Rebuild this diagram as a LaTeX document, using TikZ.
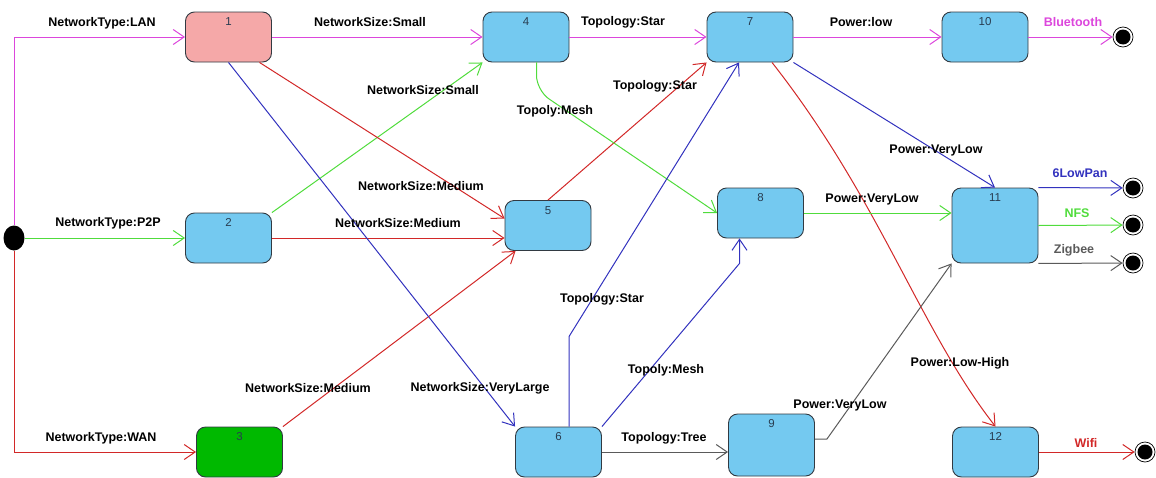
\documentclass[tikz,border=0pt]{standalone}
\usepackage{fontspec}
\setmainfont{Liberation Sans}
\usetikzlibrary{positioning, shapes.geometric, arrows.meta}
\definecolor{StateBlue}{RGB}{116, 201, 240}
\definecolor{StatePink}{RGB}{245, 168, 168}
\definecolor{StateGreen}{RGB}{0, 185, 0}
\definecolor{BorderGray}{RGB}{50, 58, 66}
\definecolor{NumGray}{RGB}{40, 60, 80}
\definecolor{LanPink}{RGB}{220, 70, 220}
\definecolor{P2PGreen}{RGB}{80, 220, 60}
\definecolor{WanRed}{RGB}{210, 40, 40}
\definecolor{VLBlue}{RGB}{50, 50, 190}
\definecolor{TreeGray}{RGB}{90, 90, 90}

\begin{document}
\begin{tikzpicture}[
    x=1pt, y=-1pt,
    state/.style={rectangle, rounded corners=9pt, draw=BorderGray, line width=0.9pt, fill=StateBlue, minimum width=86pt, minimum height=50pt, inner sep=0pt},
    num/.style={anchor=north, inner sep=6pt, font=\fontsize{11.5}{12}\selectfont, text=NumGray},
    lbl/.style={font=\fontsize{12.5}{14}\selectfont\bfseries, inner sep=1pt},
    init/.style={ellipse, fill=black, minimum width=21pt, minimum height=25pt, inner sep=0pt},
    final/.style={circle, draw=black, fill=white, line width=0.7pt, minimum size=20pt, inner sep=0pt,
      path picture={\fill[black] (path picture bounding box.center) circle (7.5pt);}},
    arrow/.style={-{Straight Barb[length=11pt, width=15pt]}, line width=1pt}
  ]
    \useasboundingbox (0,0) rectangle (1156,477);

    % Initial state
    \node[init] (start) at (14,238) {};

    % States
    \node[state, fill=StatePink, label={[num]north:1}] (n1) at (228.5,37) {};
    \node[state, fill=StateGreen, label={[num]north:3}] (n3) at (239.5,452) {};
    \foreach \n/\x/\y in {2/228.5/238, 4/526/37, 5/548/225.5, 6/558.5/452, 7/750/37, 8/760.5/213, 10/985/37, 12/995.5/452} {
      \node[state, label={[num]north:\n}] (n\n) at (\x,\y) {};
    }
    \node[state, minimum height=62pt, label={[num]north:9}] (n9) at (771.5,445) {};
    \node[state, minimum height=75pt, label={[num]north:11}] (n11) at (995,225.5) {};

    % Final states
    \foreach \f/\x/\y in {1/1123/37, 2/1133/188, 3/1133/225, 4/1133/263, 5/1145/452} {
      \node[final] (f\f) at (\x,\y) {};
    }

    % Network type
    \draw[arrow, LanPink] (start) |- (n1);
    \draw[arrow, P2PGreen] (start) -- (n2);
    \draw[arrow, WanRed] (start) |- (n3);

    % Network size
    \draw[arrow, LanPink] (n1) -- (n4);
    \draw[arrow, P2PGreen] (n2.north east) -- (n4.south west);
    \draw[arrow, WanRed] ([xshift=31pt]n1.south) -- ([yshift=7pt]n5.west);
    \draw[arrow, WanRed] (n2) -- (n2 -| n5.west);
    \draw[arrow, WanRed] (n3.north east) -- ([xshift=11pt]n5.south west);
    \draw[arrow, VLBlue] (n1.south) -- (n6.north west);

    % Topology
    \draw[arrow, LanPink] (n4) -- (n7);
    \draw[arrow, WanRed] (n5.north) -- (n7.south west);
    \draw[arrow, P2PGreen, rounded corners=15pt] ([xshift=10.5pt]n4.south) -- ++(0,28) -- (n8.west);
    \draw[arrow, VLBlue] ([xshift=10.5pt]n6.north) -- ++(0,-90) -- ([xshift=-11pt]n7.south);
    \draw[arrow, VLBlue] (n6.north east) -- ([xshift=-21pt, yshift=-25pt]n8.south) -- ([xshift=-21pt]n8.south);
    \draw[arrow, TreeGray] (n6.east) -- (n6.east -| n9.west);

    % Power
    \draw[arrow, LanPink] (n7) -- (n10);
    \draw[arrow, VLBlue] (n7.south east) -- (n11.north);
    \draw[arrow, WanRed] ([xshift=22pt]n7.south) .. controls (880,200) and (920,330) .. (n12.north);
    \draw[arrow, P2PGreen] (n8.east) -- (n8.east -| n11.west);
    \draw[arrow, TreeGray] ([yshift=6pt]n9.east) -- ++(12,0) -- (n11.south west);

    % Technologies
    \draw[arrow, LanPink] (n10) -- (f1);
    \draw[arrow, VLBlue] (n11.north east) -- (f2);
    \draw[arrow, P2PGreen] (n11.east) -- (f3);
    \draw[arrow, TreeGray] (n11.south east) -- (f4);
    \draw[arrow, WanRed] (n12) -- (f5);

    % Labels
    \node[lbl] (lLan) at (102,23) {NetworkType:LAN};
    \node[lbl] (lP2P) at (108,223) {NetworkType:P2P};
    \node[lbl] (lWan) at (101,438) {NetworkType:WAN};
    \node[lbl] (lSmallA) at (370,22) {NetworkSize:Small};
    \node[lbl] (lSmallB) at (423,90) {NetworkSize:Small};
    \node[lbl] (lMedA) at (421,186) {NetworkSize:Medium};
    \node[lbl] (lMedB) at (398,223) {NetworkSize:Medium};
    \node[lbl] (lMedC) at (308,388) {NetworkSize:Medium};
    \node[lbl] (lVLarge) at (480,388) {NetworkSize:VeryLarge};
    \node[lbl] (lStarA) at (623,22) {Topology:Star};
    \node[lbl] (lStarB) at (655,86) {Topology:Star};
    \node[lbl] (lStarC) at (602,299) {Topology:Star};
    \node[lbl] (lMeshA) at (555,111) {Topoly:Mesh};
    \node[lbl] (lMeshB) at (666,370) {Topoly:Mesh};
    \node[lbl] (lTree) at (664,438) {Topology:Tree};
    \node[lbl] (lLow) at (861,22) {Power:low};
    \node[lbl] (lVLowA) at (936,150) {Power:VeryLow};
    \node[lbl] (lVLowB) at (872,199) {Power:VeryLow};
    \node[lbl] (lVLowC) at (840,405) {Power:VeryLow};
    \node[lbl] (lLowHigh) at (960,363) {Power:Low-High};
    \node[lbl, text=LanPink] (lBt) at (1073,22) {Bluetooth};
    \node[lbl, text=VLBlue] (l6lp) at (1080,173) {6LowPan};
    \node[lbl, text=P2PGreen] (lNfs) at (1077,213) {NFS};
    \node[lbl, text=TreeGray] (lZig) at (1074,250) {Zigbee};
    \node[lbl, text=WanRed] (lWifi) at (1086,443) {Wifi};
  \end{tikzpicture}
\end{document}
